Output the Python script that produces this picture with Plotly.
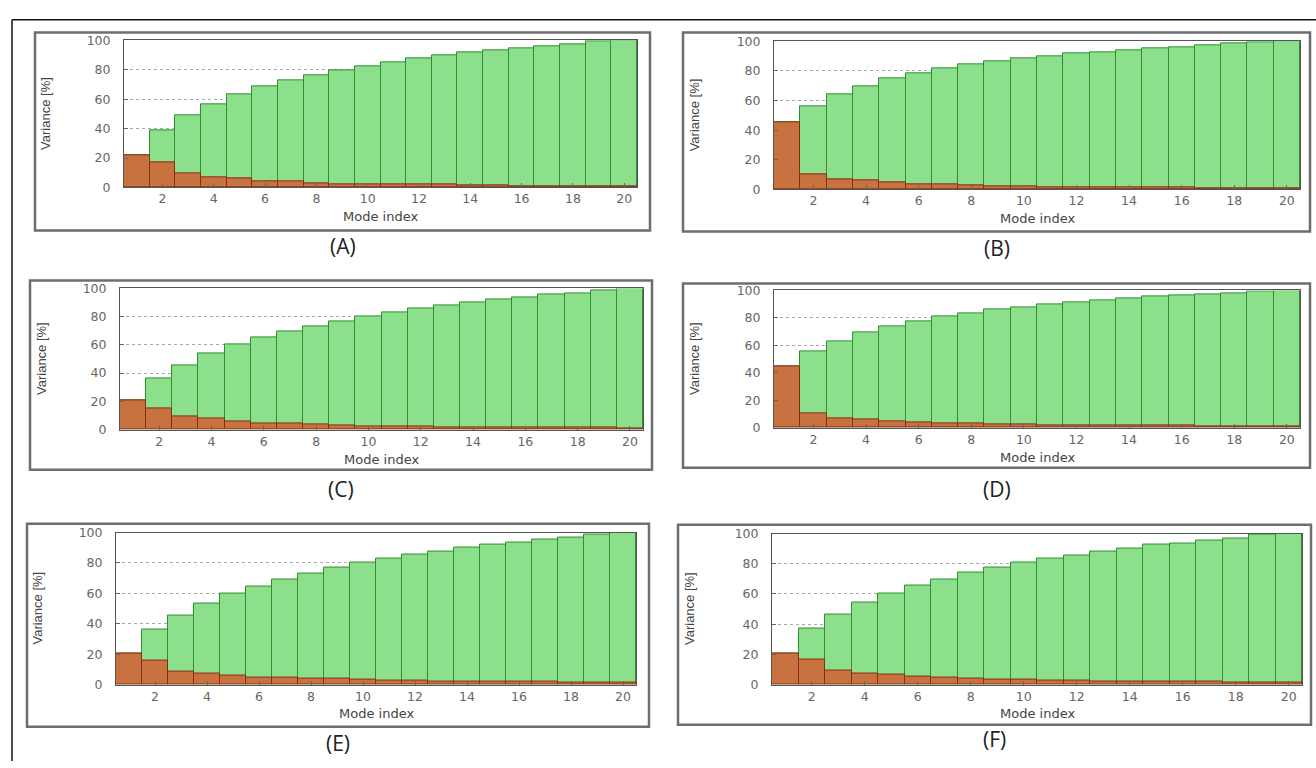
import plotly.graph_objects as go

W, H = 1316, 768

modes = list(range(1, 21))
x_ticks = [2, 4, 6, 8, 10, 12, 14, 16, 18, 20]
y_ticks = [0, 20, 40, 60, 80, 100]
panel_labels = ["(A)", "(B)", "(C)", "(D)", "(E)", "(F)"]

# cumulative variance (green) per panel
cum_A = [21.6, 38.9, 48.9, 56.7, 63.3, 68.4, 73.1, 76.4, 79.8, 82.4, 85.3, 87.8, 90.0, 91.8, 93.1, 94.9, 96.2, 97.6, 99.1, 100]
cum_B = [45.3, 56.3, 64.0, 69.5, 74.8, 78.4, 81.7, 84.5, 86.5, 88.5, 90.1, 91.8, 92.9, 94.0, 95.4, 96.2, 97.6, 98.7, 99.6, 100]
cum_C = [20.8, 36.5, 45.7, 53.8, 60.3, 65.4, 69.7, 73.4, 76.9, 79.9, 83.1, 85.5, 87.8, 90.1, 92.1, 93.8, 95.6, 96.5, 98.6, 100]
cum_D = [44.3, 55.7, 62.6, 69.2, 73.9, 77.5, 80.8, 83.6, 86.3, 87.9, 89.6, 91.2, 92.7, 94.1, 95.3, 96.7, 97.4, 97.9, 99.3, 100]
cum_E = [20.2, 36.3, 45.6, 53.1, 59.8, 64.7, 69.2, 73.3, 76.8, 80.2, 83.0, 85.2, 87.7, 89.9, 92.3, 93.5, 95.5, 96.6, 98.5, 100]
cum_F = [20.6, 36.9, 46.2, 54.0, 60.1, 65.5, 69.8, 74.2, 77.4, 80.7, 83.3, 85.7, 88.3, 90.0, 92.4, 93.5, 95.4, 96.7, 99.1, 100]

# individual variance (brown) per panel
ind_A = [21.6, 16.9, 9.6, 6.6, 6.4, 4.4, 4.0, 2.9, 2.4, 2.0, 2.0, 1.8, 1.8, 1.3, 1.3, 0.9, 0.7, 0.7, 0.7, 0.7]
ind_B = [45.3, 10.4, 7.1, 6.0, 4.9, 3.3, 3.1, 2.6, 2.2, 1.8, 1.5, 1.3, 1.1, 1.1, 1.1, 1.1, 0.9, 0.9, 0.9, 0.9]
ind_C = [20.8, 14.8, 9.0, 7.6, 5.5, 4.6, 4.2, 3.7, 3.2, 2.5, 2.5, 2.1, 1.8, 1.8, 1.6, 1.6, 1.4, 1.2, 1.2, 0.9]
ind_D = [44.3, 10.7, 7.1, 6.2, 4.7, 3.8, 3.3, 2.8, 2.6, 2.4, 1.9, 1.9, 1.4, 1.4, 1.4, 1.4, 1.2, 0.9, 0.9, 0.9]
ind_E = [20.2, 15.5, 8.8, 7.5, 6.0, 4.9, 4.5, 3.9, 3.7, 3.2, 2.8, 2.4, 2.2, 2.2, 1.9, 1.9, 1.9, 1.5, 1.5, 1.5]
ind_F = [20.6, 16.5, 9.1, 7.6, 6.3, 5.0, 4.8, 3.9, 3.0, 3.0, 2.8, 2.4, 2.2, 2.2, 2.2, 2.2, 2.2, 1.5, 1.5, 1.5]

cums = [cum_A, cum_B, cum_C, cum_D, cum_E, cum_F]
inds = [ind_A, ind_B, ind_C, ind_D, ind_E, ind_F]

# layout geometry in pixels
boxes = [(35, 25, 650, 227), (683, 25, 1310, 228),
         (30, 278, 652, 471), (683, 281, 1310, 469),
         (27, 526, 649, 733), (678, 527, 1311, 731)]
plots = [(124, 637, 33, 183), (774, 1300, 34, 185),
         (120, 643, 286, 430), (774, 1300, 288, 428),
         (116, 636, 535, 690), (772, 1302, 536, 690)]
label_y = [243, 245, 491, 491, 750, 746]

def px(x):
    return x / W

def py(y):
    return 1 - y / H

fig = go.Figure()
shapes = []
annotations = []

for i in range(6):
    n = "" if i == 0 else str(i + 1)
    xa, ya = "x" + n, "y" + n
    fig.add_trace(go.Bar(x=modes, y=cums[i], width=1.0, xaxis=xa, yaxis=ya,
                         marker=dict(color="#8ce08c", line=dict(color="#2f8f2f", width=1)),
                         showlegend=False))
    fig.add_trace(go.Bar(x=modes, y=inds[i], width=1.0, xaxis=xa, yaxis=ya,
                         marker=dict(color="#c8733f", line=dict(color="#8a2c14", width=1)),
                         showlegend=False))
    x0, x1, yt, yb = plots[i]
    axis_common = dict(showline=True, linecolor="#555", linewidth=1, mirror=True,
                       ticks="inside", ticklen=4, tickcolor="#666",
                       tickfont=dict(family="DejaVu Sans", size=12.5, color="#666"),
                       zeroline=False)
    fig.layout["xaxis" + n] = dict(domain=[px(x0), px(x1)], anchor=ya, range=[0.5, 20.5],
                                   tickvals=x_ticks, showgrid=False,
                                   ticklabelstandoff=0, **axis_common)
    fig.layout["yaxis" + n] = dict(domain=[py(yb), py(yt)], anchor=xa, range=[0, 100],
                                   tickvals=y_ticks, showgrid=True, gridcolor="#aaa",
                                   griddash="dot", gridwidth=1,
                                   ticklabelstandoff=10, **axis_common)
    bx0, by0, bx1, by1 = boxes[i]
    shapes.append(dict(type="rect", xref="paper", yref="paper",
                       x0=px(bx0), x1=px(bx1), y0=py(by1), y1=py(by0),
                       line=dict(color="#6e6e6e", width=2.5), layer="below"))
    annotations.append(dict(text="Mode index", xref="paper", yref="paper",
                            x=px((x0 + x1) / 2), y=py(yb + 30), showarrow=False,
                            xanchor="center", yanchor="middle",
                            font=dict(family="DejaVu Sans", size=13, color="#444")))
    annotations.append(dict(text="Variance [%]", xref="paper", yref="paper",
                            x=px(bx0 + 11), y=py((yt + yb) / 2), showarrow=False,
                            textangle=-90, xanchor="center", yanchor="middle",
                            font=dict(family="Liberation Sans Narrow, Liberation Sans", size=13, color="#444")))
    annotations.append(dict(text=panel_labels[i], xref="paper", yref="paper",
                            x=px((bx0 + bx1) / 2), y=py(label_y[i]), showarrow=False,
                            xanchor="center", yanchor="middle",
                            font=dict(family="Open Sans", size=21, color="#222")))

# outer black frame (left and top)
shapes.append(dict(type="line", xref="paper", yref="paper", x0=px(12), x1=px(12),
                   y0=0, y1=py(12), line=dict(color="#111", width=1.5)))
shapes.append(dict(type="line", xref="paper", yref="paper", x0=px(12), x1=1,
                   y0=py(12), y1=py(12), line=dict(color="#111", width=1.5)))

fig.update_layout(width=W, height=H, margin=dict(l=0, r=0, t=0, b=0),
                  paper_bgcolor="white", plot_bgcolor="white",
                  barmode="overlay", bargap=0, shapes=shapes, annotations=annotations)

fig.write_html("out.html")
